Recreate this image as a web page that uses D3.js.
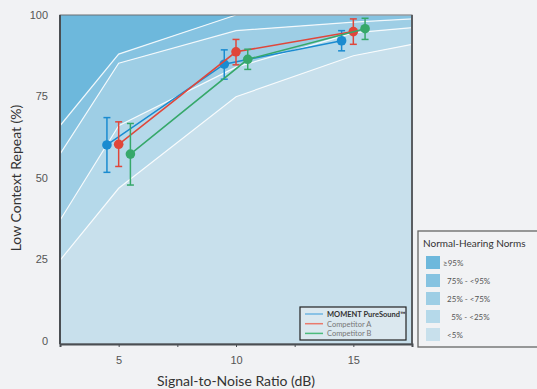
<!DOCTYPE html>
<html>
<head>
<meta charset="utf-8">
<script src="https://cdn.jsdelivr.net/npm/d3@7"></script>
<style>
  body { margin: 0; background: #f1f2f4; }
  svg { display: block; font-family: Lato, "Open Sans", sans-serif; }
  .tick text { fill: #555; font-size: 11px; }
</style>
</head>
<body>
<div id="chart"></div>
<script>
// SNR conditions (dB) and x ticks
var snrLevels = [5, 10, 15];
var xTicks = [2.5, 5, 7.5, 10, 12.5, 15, 17.5];
var yTicks = [0, 25, 50, 75, 100];

// normal-hearing percentile boundaries
var normX = [2.5, 5, 10, 15, 17.5];
var p95 = [66, 88, 100, 100, 100];
var p75 = [57.3, 85.2, 95.2, 97.8, 98.8];
var p25 = [37, 66, 84, 94.5, 96.1];
var p5 = [24.7, 46.8, 74.9, 87.5, 91];

// series: mean, lower and upper error
var seriesNames = ["MOMENT PureSound\u2122", "Competitor A", "Competitor B"];
var seriesColors = ["#1a8bd0", "#e0463a", "#36a86a"];
var legendColors = ["#6fb6e2", "#ea7a6c", "#4cbb7c"];
var seriesOffset = [-0.5, 0, 0.5];
var momentMean = [60.1, 84.9, 92.1];
var momentLo = [51.7, 80.3, 89];
var momentHi = [68.5, 89.3, 95.2];
var compAMean = [60.3, 88.7, 94.9];
var compALo = [53.5, 84.7, 91];
var compAHi = [67.2, 92.5, 98.8];
var compBMean = [57.3, 86.4, 95.8];
var compBLo = [47.8, 83.3, 92.5];
var compBHi = [66.7, 89.5, 99];

var bandLabels = ["\u226595%", "  75% - <95%", "  25% - <75%", "    5% - <25%", "  <5%"];
var bandColors = ["#6db8dc", "#86c3e1", "#9ecee5", "#b5d9ea", "#c8e0ec"];

var W = 537, H = 389;
var margin = {top: 15, left: 60, right: 125, bottom: 45};
var width = W - margin.left - margin.right,
    height = H - margin.top - margin.bottom;

var svg = d3.select("#chart").append("svg")
    .attr("width", W)
    .attr("height", H);

var g = svg.append("g")
    .attr("transform", "translate(" + margin.left + "," + margin.top + ")");

var xScale = d3.scaleLinear().domain([2.5, 17.5]).range([0, width]);
var yScale = d3.scaleLinear().domain([-1, 100]).range([height, 0]);

// bands
var bounds = [
    normX.map(function() { return 100; }),
    p95, p75, p25, p5,
    normX.map(function() { return -1; })
];
var area = d3.area()
    .x(function(d) { return xScale(d.x); })
    .y0(function(d) { return yScale(d.lo); })
    .y1(function(d) { return yScale(d.hi); });

for (var b = 0; b < 5; b++) {
    var pts = normX.map(function(x, i) {
        return {x: x, hi: bounds[b][i], lo: bounds[b + 1][i]};
    });
    g.append("path")
        .attr("d", area(pts))
        .attr("fill", bandColors[b]);
}

var line = d3.line()
    .x(function(d) { return xScale(d.x); })
    .y(function(d) { return yScale(d.y); });

[p95, p75, p25, p5].forEach(function(arr) {
    g.append("path")
        .attr("d", line(normX.map(function(x, i) { return {x: x, y: arr[i]}; })))
        .attr("fill", "none")
        .attr("stroke", "#fff")
        .attr("stroke-opacity", 0.85)
        .attr("stroke-width", 1.2);
});

// data series
var means = [momentMean, compAMean, compBMean];
var los = [momentLo, compALo, compBLo];
var his = [momentHi, compAHi, compBHi];

means.forEach(function(m, s) {
    var pts = snrLevels.map(function(x, i) {
        return {x: x + seriesOffset[s], y: m[i], lo: los[s][i], hi: his[s][i]};
    });
    var grp = g.append("g");
    grp.append("path")
        .attr("d", line(pts))
        .attr("fill", "none")
        .attr("stroke", seriesColors[s])
        .attr("stroke-width", 1.5);
    pts.forEach(function(p) {
        var px = xScale(p.x);
        grp.append("line")
            .attr("x1", px).attr("x2", px)
            .attr("y1", yScale(p.lo)).attr("y2", yScale(p.hi))
            .attr("stroke", seriesColors[s]).attr("stroke-width", 1.5);
        [p.lo, p.hi].forEach(function(v) {
            grp.append("line")
                .attr("x1", px - 3.5).attr("x2", px + 3.5)
                .attr("y1", yScale(v)).attr("y2", yScale(v))
                .attr("stroke", seriesColors[s]).attr("stroke-width", 1.5);
        });
        grp.append("circle")
            .attr("cx", px).attr("cy", yScale(p.y))
            .attr("r", 4.8)
            .attr("fill", seriesColors[s]);
    });
});

// frame
g.append("rect")
    .attr("width", width).attr("height", height)
    .attr("fill", "none")
    .attr("stroke", "#6a6e72")
    .attr("stroke-width", 1);
g.append("line")
    .attr("x1", width).attr("x2", width).attr("y1", 0).attr("y2", height)
    .attr("stroke", "#5a5e62").attr("stroke-width", 2);

// axes
var xAxis = d3.axisBottom(xScale)
    .tickValues(xTicks)
    .tickSize(3)
    .tickFormat(function(d) { return snrLevels.indexOf(d) >= 0 ? d : ""; });
var gx = g.append("g")
    .attr("transform", "translate(0," + height + ")")
    .call(xAxis);
gx.select(".domain").attr("stroke", "#4a4e52").attr("stroke-width", 2);
gx.selectAll(".tick line").attr("stroke", "#4a4e52");
gx.selectAll(".tick text").attr("dy", "1.3em");

var yAxis = d3.axisLeft(yScale).tickValues(yTicks).tickSize(0).tickPadding(12);
var gy = g.append("g").call(yAxis);
gy.select(".domain").attr("stroke", "#4a4e52").attr("stroke-width", 2)
    .attr("d", "M0,0V" + height);

// axis titles
svg.append("text")
    .attr("x", margin.left + width / 2)
    .attr("y", 386)
    .attr("text-anchor", "middle")
    .attr("fill", "#333")
    .style("font-size", "14px")
    .text("Signal-to-Noise Ratio (dB)");
svg.append("text")
    .attr("transform", "translate(21,178) rotate(-90)")
    .attr("text-anchor", "middle")
    .attr("fill", "#333")
    .style("font-size", "14px")
    .text("Low Context Repeat (%)");

// series legend
var lg = g.append("g").attr("transform", "translate(240,292)");
lg.append("rect")
    .attr("width", 106).attr("height", 33)
    .attr("fill", "#dbe8ef")
    .attr("stroke", "#222").attr("stroke-width", 1.2);
seriesNames.forEach(function(n, i) {
    lg.append("line")
        .attr("x1", 5).attr("x2", 23)
        .attr("y1", 7 + i * 9.7).attr("y2", 7 + i * 9.7)
        .attr("stroke", legendColors[i]).attr("stroke-width", 1.5);
    lg.append("text")
        .attr("x", 27).attr("y", 10 + i * 9.7)
        .attr("fill", i == 0 ? "#333" : "#777")
        .style("font-size", "7.5px")
        .style("font-weight", i == 0 ? "bold" : "normal")
        .text(n);
});

// norms legend
var ng = svg.append("g").attr("transform", "translate(418,231)");
ng.append("rect")
    .attr("width", 130).attr("height", 116)
    .attr("fill", "#f1f2f4")
    .attr("stroke", "#666").attr("stroke-width", 1.3);
ng.append("text")
    .attr("x", 5).attr("y", 16)
    .attr("fill", "#333")
    .style("font-size", "10px")
    .text("Normal-Hearing Norms");
bandLabels.forEach(function(lbl, i) {
    ng.append("rect")
        .attr("x", 8).attr("y", 25 + i * 18)
        .attr("width", 14).attr("height", 13)
        .attr("fill", bandColors[i]);
    ng.append("text")
        .attr("x", 25).attr("y", 35 + i * 18)
        .attr("fill", "#555")
        .style("font-size", "8px")
        .style("white-space", "pre")
        .text(lbl);
});
</script>
</body>
</html>
